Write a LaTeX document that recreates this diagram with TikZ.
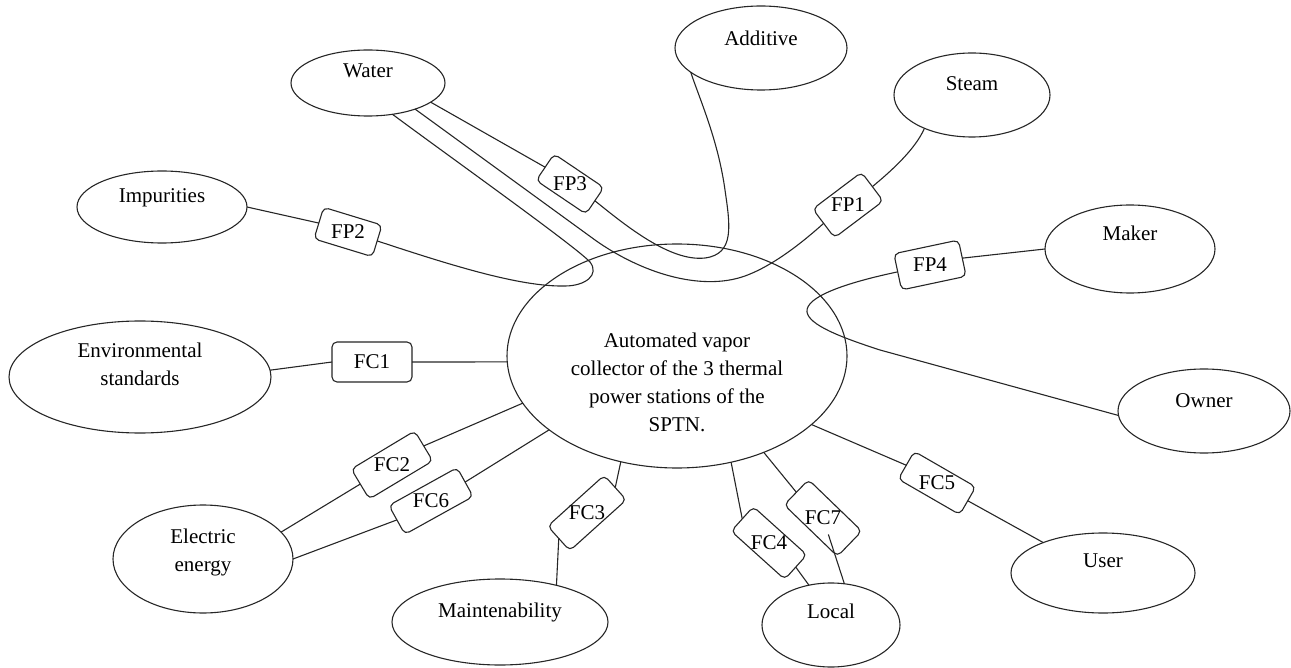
\documentclass[tikz,border=0pt]{standalone}
\usepackage{fontspec}
\setmainfont{Liberation Serif}
\usetikzlibrary{shapes.geometric,calc}
\newcommand{\lifted}[2]{\smash{\raisebox{#1}{\begin{tabular}{@{}c@{}}#2\end{tabular}}}}
\tikzset{
  ent/.style={draw=black!85, ellipse, inner sep=0pt, outer sep=0pt, line width=1.1pt},
  lbl/.style={draw=black!85, rounded corners=5pt, fill=white, inner sep=0pt, outer sep=0pt, line width=1.1pt},
  con/.style={draw=black!85, line width=1.1pt}
}
\begin{document}
\begin{tikzpicture}[x=1pt, y=-1pt, font=\fontsize{21}{28}\selectfont]
\useasboundingbox (0,0) rectangle (1291,668);
% entities
\node[ent, minimum width=340pt, minimum height=224pt] (center) at (677,356)
  {\lifted{-33pt}{Automated vapor\\collector of the 3 thermal\\power stations of the\\SPTN.}};
\node[ent, minimum width=154pt, minimum height=66pt] (water) at (368,83) {\lifted{6pt}{Water}};
\node[ent, minimum width=172pt, minimum height=84pt] (additive) at (761,48) {\lifted{3pt}{Additive}};
\node[ent, minimum width=156pt, minimum height=84pt] (steam) at (972,95) {\lifted{5pt}{Steam}};
\node[ent, minimum width=170pt, minimum height=88pt] (maker) at (1130,249) {\lifted{9pt}{Maker}};
\node[ent, minimum width=170pt, minimum height=72pt] (impurities) at (162,207) {\lifted{5pt}{Impurities}};
\node[ent, minimum width=262pt, minimum height=112pt] (env) at (140,377) {\lifted{6pt}{Environmental\\standards}};
\node[ent, minimum width=172pt, minimum height=84pt] (owner) at (1204,411) {\lifted{4pt}{Owner}};
\node[ent, minimum width=180pt, minimum height=108pt] (elec) at (203,559) {\lifted{1.5pt}{Electric\\energy}};
\node[ent, minimum width=184pt, minimum height=80pt] (user) at (1103,573) {\lifted{6pt}{User}};
\node[ent, minimum width=216pt, minimum height=86pt] (maint) at (500,622) {\lifted{5pt}{Maintenability}};
\node[ent, minimum width=138pt, minimum height=84pt] (local) at (831,625) {\lifted{7pt}{Local}};
% label boxes (rotated frames; text set upright afterwards)
\node[lbl, minimum width=61pt, minimum height=36pt, rotate=37] (fp1) at (848,205) {};
\node[lbl, minimum width=61pt, minimum height=33pt, rotate=-17] (fp2) at (348,232) {};
\node[lbl, minimum width=60pt, minimum height=32pt, rotate=-34] (fp3) at (570,184) {};
\node[lbl, minimum width=66pt, minimum height=37pt, rotate=12] (fp4) at (930,265) {};
\node[lbl, minimum width=80pt, minimum height=40pt] (fc1) at (372,362) {};
\node[lbl, minimum width=74pt, minimum height=35pt, rotate=31] (fc2) at (392,465) {};
\node[lbl, minimum width=78pt, minimum height=33pt, rotate=29] (fc6) at (431,501) {};
\node[lbl, minimum width=76pt, minimum height=33pt, rotate=42] (fc3) at (587,513) {};
\node[lbl, minimum width=72pt, minimum height=33pt, rotate=-42] (fc4) at (769,543) {};
\node[lbl, minimum width=74pt, minimum height=35pt, rotate=-44] (fc7) at (823,518) {};
\node[lbl, minimum width=71pt, minimum height=32pt, rotate=-30] (fc5) at (937,483) {};
% connectors
\draw[con] (impurities.east) -- (fp2.west);
\draw[con] (fp2.east) .. controls (450,265) and (520,287) .. (565,286)
  .. controls (585,286) and (600,275) .. (590,262)
  .. controls (575,246) and (450,157) .. (water.-52);
\draw[con] (water.-29) -- (595,240) .. controls (640,272) and (700,292) .. (745,276)
  .. controls (775,265) and (805,240) .. (fp1.west);
\draw[con] (fp1.east) .. controls (890,172) and (915,150) .. (steam.-145);
\draw[con] (water.-17) -- (fp3.west);
\draw[con] (fp3.east) .. controls (625,225) and (670,262) .. (705,258)
  .. controls (735,254) and (730,225) .. (725,190)
  .. controls (718,140) and (700,100) .. (additive.-161);
\draw[con] (maker.180) -- (fp4.east);
\draw[con] (fp4.west) .. controls (845,283) and (805,297) .. (807,312)
  .. controls (809,325) and (840,337) .. (880,350) -- (owner.-177);
\draw[con] (env.3.5) -- (fc1.west);
\draw[con] (fc1.east) -- (center.-178);
\draw[con] (elec.19.5) -- (fc2.west);
\draw[con] (fc2.east) -- (center.-163);
\draw[con] (elec.0) -- (fc6.west);
\draw[con] (fc6.east) -- (center.-150);
\draw[con] (maint.33.5) -- (fc3.west);
\draw[con] (fc3.east) -- (center.-118);
\draw[con] (center.-63) -- (fc4.west);
\draw[con] (fc4.east) -- (local.119);
\draw[con] (center.-48) -- (fc7.west);
\draw[con] (local.72) -- ($(fc7.center)!0.25!(local.72)$);
\draw[con] (center.-27) -- (fc5.west);
\draw[con] (fc5.east) -- (user.153);
% upright box texts
\node (fp1t) at (fp1.center) {FP1};
\node (fp2t) at (fp2.center) {FP2};
\node (fp3t) at (fp3.center) {FP3};
\node (fp4t) at (fp4.center) {FP4};
\node (fc1t) at (fc1.center) {FC1};
\node (fc2t) at (fc2.center) {FC2};
\node (fc6t) at (fc6.center) {FC6};
\node (fc3t) at (fc3.center) {FC3};
\node (fc4t) at (fc4.center) {FC4};
\node (fc7t) at (fc7.center) {FC7};
\node (fc5t) at (fc5.center) {FC5};
\end{tikzpicture}
\end{document}
